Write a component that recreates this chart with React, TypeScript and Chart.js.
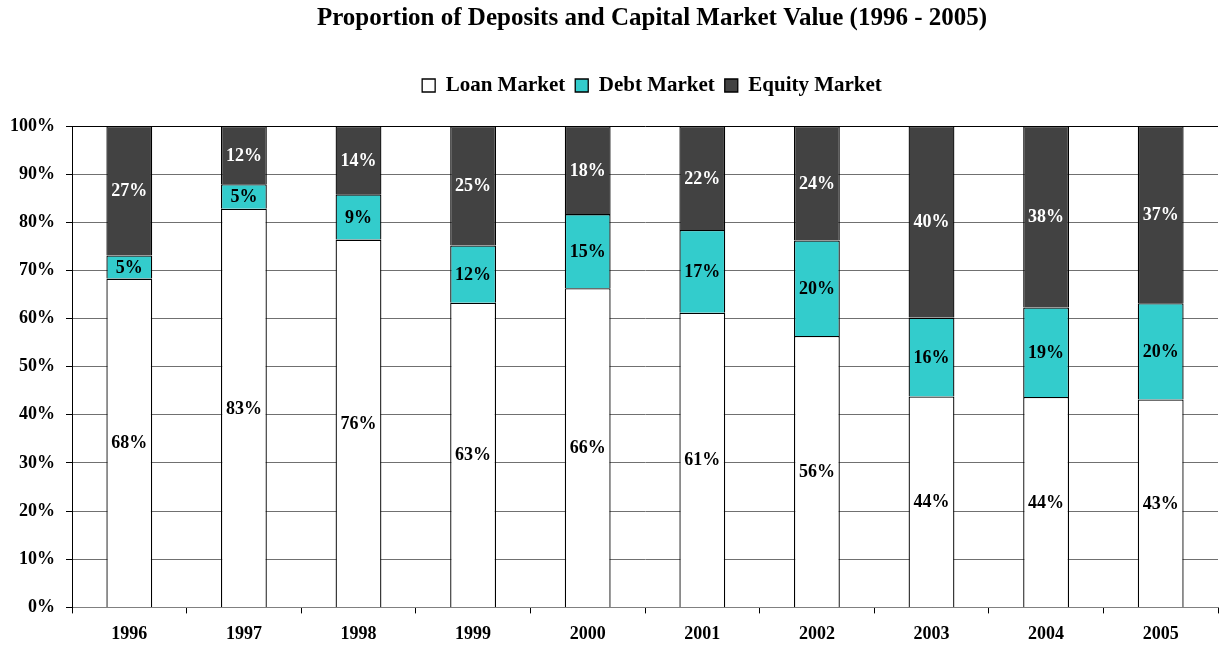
import React, { useEffect, useRef } from "react";
import { Chart, registerables } from "chart.js";

Chart.register(...registerables);

const FONT = "'Liberation Serif', 'Times New Roman', serif";

const years = ["1996", "1997", "1998", "1999", "2000", "2001", "2002", "2003", "2004", "2005"];
const loanMarket = [68.3, 82.8, 76.4, 63.3, 66.3, 61.2, 56.4, 43.8, 43.7, 43.2];
const debtMarket = [4.8, 5.1, 9.4, 11.9, 15.4, 17.2, 19.8, 16.4, 18.6, 20.0];
const equityMarket = [26.9, 12.1, 14.2, 24.8, 18.3, 21.6, 23.8, 39.8, 37.7, 36.8];
const yTicks = [0, 10, 20, 30, 40, 50, 60, 70, 80, 90, 100];
const seriesNames = ["Loan Market", "Debt Market", "Equity Market"];
const seriesColors = ["#FFFFFF", "#33CCCC", "#424242"];
const labelColors = ["#000000", "#000000", "#FFFFFF"];
const titleText = "Proportion of Deposits and Capital Market Value (1996 - 2005)";

const segmentLabels = {
  id: "segmentLabels",
  afterDatasetsDraw(chart: any) {
    const ctx = chart.ctx;
    ctx.save();
    ctx.font = `bold 18px ${FONT}`;
    ctx.textAlign = "center";
    ctx.textBaseline = "middle";
    chart.data.datasets.forEach((ds: any, i: number) => {
      const meta = chart.getDatasetMeta(i);
      meta.data.forEach((el: any, j: number) => {
        const { x, y, base } = el.getProps(["x", "y", "base"], true);
        ctx.fillStyle = labelColors[i];
        ctx.fillText(Math.round(ds.data[j]) + "%", x, (y + base) / 2 + 1);
      });
    });
    ctx.restore();
  },
};

const headerShift = {
  id: "headerShift",
  afterInit(chart: any) {
    const lg = chart.legend;
    if (lg) {
      const fit = lg.fit.bind(lg);
      lg.fit = function () {
        fit();
        this.height += 20;
      };
    }
  },
  afterLayout(chart: any) {
    const ca = chart.chartArea;
    const d = (ca.left + ca.right) / 2 - chart.width / 2 + 3;
    for (const box of [chart.titleBlock, chart.legend]) {
      if (box) {
        box.left += d;
        box.right += d;
      }
    }
  },
};

export default function App() {
  const ref = useRef<HTMLCanvasElement | null>(null);

  useEffect(() => {
    document.body.style.margin = "0";
    if (!ref.current) return;
    const data = [loanMarket, debtMarket, equityMarket];
    const chart = new Chart(ref.current, {
      type: "bar",
      data: {
        labels: years,
        datasets: data.map((d, i) => ({
          label: seriesNames[i],
          data: d,
          backgroundColor: seriesColors[i],
          borderColor: "#000000",
          borderWidth: 1.3,
          barPercentage: 0.4,
          categoryPercentage: 1,
        })),
      },
      options: {
        responsive: false,
        animation: false,
        layout: { padding: { left: 10, right: 2, top: 0, bottom: 0 } },
        plugins: {
          title: {
            display: true,
            text: titleText,
            color: "#000000",
            font: { family: FONT, size: 25, weight: "bold" },
            padding: { top: 4, bottom: 31 },
          },
          legend: {
            display: true,
            position: "top",
            labels: {
              color: "#000000",
              font: { family: FONT, size: 21, weight: "bold" },
              boxWidth: 13,
              boxHeight: 13,
              padding: 10,
            },
          },
          tooltip: { enabled: false },
        },
        scales: {
          x: {
            stacked: true,
            afterFit: (scale: any) => {
              scale.height -= 10;
            },
            grid: {
              display: true,
              drawOnChartArea: false,
              drawTicks: true,
              tickLength: 6,
              offset: true,
              color: "#000000",
            },
            border: { display: true, color: "#808080", width: 1 },
            ticks: {
              color: "#000000",
              padding: 10,
              font: { family: FONT, size: 18, weight: "bold" },
            },
          },
          y: {
            stacked: true,
            min: 0,
            max: 100,
            afterBuildTicks: (axis: any) => {
              axis.ticks = yTicks.map((v) => ({ value: v }));
            },
            afterFit: (scale: any) => {
              scale.width -= 11;
            },
            grid: {
              color: (c: any) => (c.tick && c.tick.value === 100 ? "#000000" : "#707070"),
              tickColor: "#000000",
              tickLength: 6,
              lineWidth: 1,
            },
            border: { display: true, color: "#000000", width: 1 },
            ticks: {
              color: "#000000",
              padding: 11,
              font: { family: FONT, size: 18, weight: "bold" },
              callback: (v: any) => v + "%",
            },
          },
        },
      },
      plugins: [segmentLabels, headerShift],
    });
    return () => chart.destroy();
  }, []);

  return (
    <div style={{ width: 1220, height: 645 }}>
      <canvas ref={ref} width={1220} height={645} style={{ display: "block" }} />
    </div>
  );
}
